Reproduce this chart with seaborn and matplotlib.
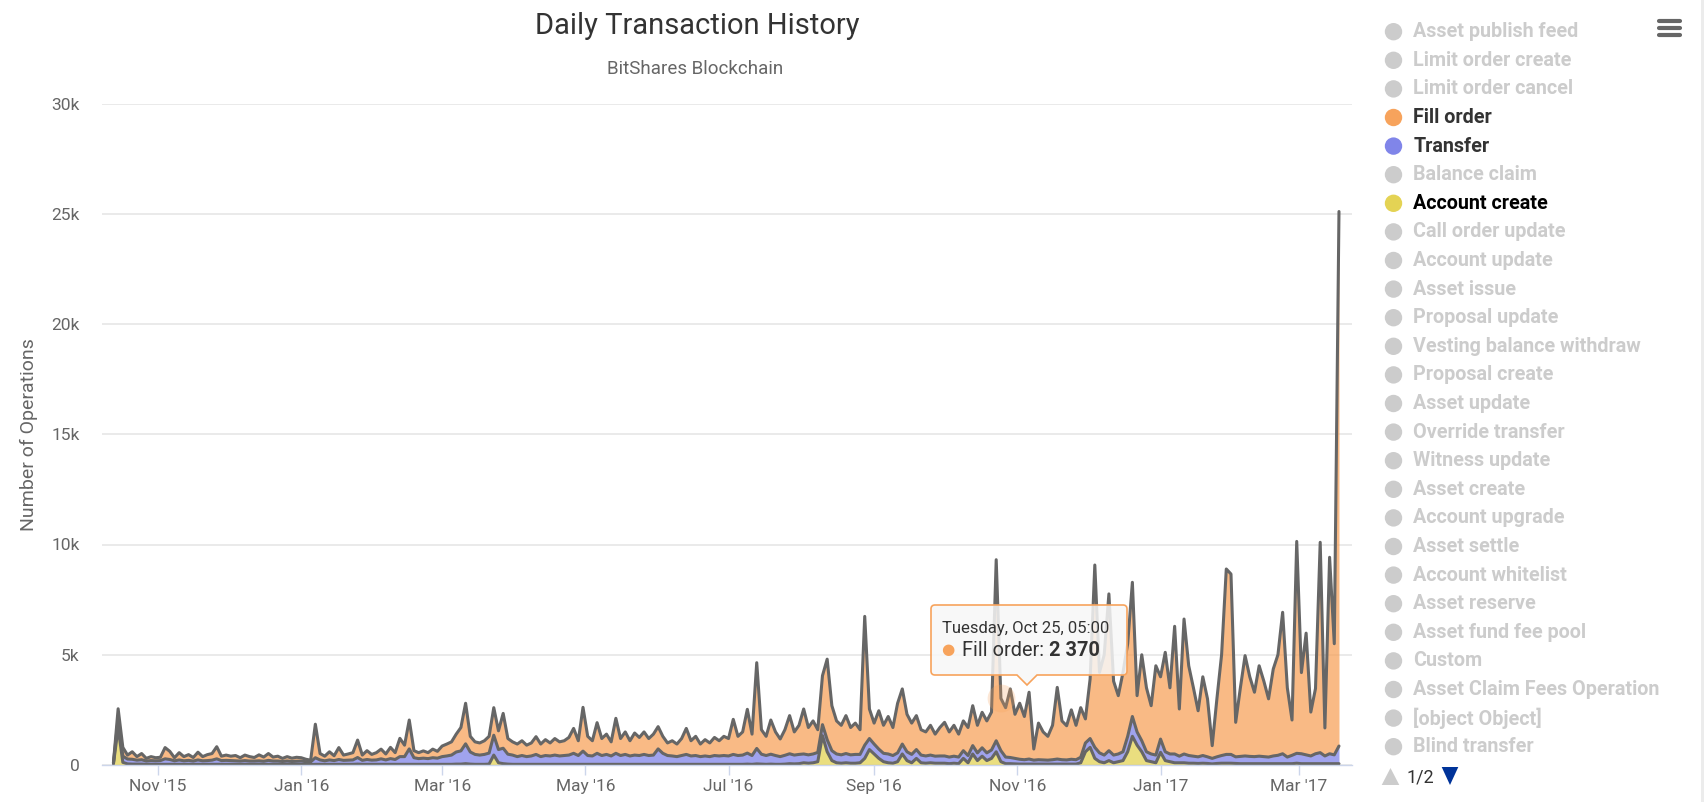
import matplotlib
matplotlib.use("Agg")
import matplotlib.pyplot as plt
import matplotlib.dates as mdates
import seaborn as sns
import pandas as pd
from matplotlib.patches import Ellipse, PathPatch, Polygon, Rectangle
from matplotlib.path import Path
from matplotlib.lines import Line2D

# ---- data: one value every second day, starting 13 Oct 2015 ----
# rows are calendar months, Oct '15 ... Mar '17
fill_order = (
    [0, 450, 400, 180, 340, 160, 280, 120, 180, 140]
    + [150, 510, 370, 140, 330, 190, 260, 160, 350, 190, 270, 300, 550, 200, 240]
    + [200, 240, 150, 250, 200, 160, 270, 190, 310, 180, 220, 140, 200, 150, 180]
    + [150, 110, 80, 1520, 290, 210, 370, 220, 540, 240, 280, 330, 790, 240, 400, 260]
    + [330, 440, 270, 510, 310, 830, 520, 1310, 320, 270, 330, 270, 390, 310]
    + [480, 540, 600, 810, 1060, 1840, 710, 570, 550, 620, 760, 1250, 850, 1580, 710, 600]
    + [570, 670, 520, 590, 805, 570, 720, 590, 750, 640, 670, 800, 1130, 670, 1985]
    + [870, 690, 1390, 770, 920, 640, 1587, 770, 1020, 690, 1000, 820, 1020, 770, 950]
    + [1010, 770, 570, 690, 570, 770, 1180, 690, 870, 570, 740, 620, 820, 690, 870]
    + [790, 1590, 870, 1050, 1985, 970, 3890, 1110, 870, 1550, 1070, 800, 1160, 1730, 1050, 1320]
    + [2040, 1240, 1500, 1030, 2220, 3650, 2040, 1500, 1340, 1720, 1240, 1420, 1120, 5840, 1340]
    + [950, 1740, 1270, 1700, 1270, 2250, 2500, 1700, 1420, 1540, 1150, 1090, 1350, 1000, 1290]
    + [1525, 1140, 1400, 1040, 1350, 1270, 1810, 1250, 1610, 1450, 1720, 8210, 2370, 2240, 3110, 2000]
    + [2540, 1960, 3030, 505, 1660, 1270, 1080, 1560, 3250, 1760, 1550, 2240, 1560, 2250, 1090]
    + [2700, 8270, 3650, 4550, 7110, 3350, 2645, 3600, 4200, 6085, 1645, 3900, 2900, 2190, 4050]
    + [2825, 4510, 3000, 5790, 2140, 6120, 4070, 3100, 2090, 3570, 2630, 577, 2630, 4570, 8410, 8180]
    + [1565, 3110, 4550, 3610, 2920, 4100, 3420, 2640, 3940, 4560, 6415, 3140, 1600, 9610]
    + [3680, 5520, 1990, 2960, 9540, 1270, 8910, 5040, 24240]
)
transfer = (
    [50, 400, 280, 220, 220, 180, 200, 150, 170, 160]
    + [170, 250, 220, 160, 200, 160, 180, 150, 200, 160, 170, 190, 250, 170, 180]
    + [170, 160, 150, 170, 150, 150, 160, 140, 180, 150, 150, 130, 150, 130, 140]
    + [150, 130, 120, 300, 200, 160, 200, 170, 220, 180, 190, 200, 300, 180, 220, 190]
    + [200, 250, 200, 260, 220, 350, 350, 700, 300, 260, 280, 260, 300, 280]
    + [350, 380, 420, 550, 600, 900, 550, 450, 420, 450, 500, 900, 600, 700, 450, 420]
    + [350, 400, 350, 380, 450, 350, 400, 380, 420, 380, 400, 420, 500, 400, 600]
    + [400, 380, 500, 400, 450, 380, 500, 400, 450, 380, 420, 400, 450, 400, 420]
    + [700, 500, 400, 380, 350, 400, 450, 380, 400, 350, 380, 350, 400, 380, 400]
    + [380, 450, 400, 420, 500, 400, 700, 450, 400, 450, 400, 350, 400, 450, 400, 420]
    + [400, 380, 400, 420, 500, 550, 450, 400, 380, 420, 380, 400, 380, 600, 500]
    + [450, 420, 380, 400, 350, 400, 450, 400, 380, 400, 350, 330, 350, 320, 330]
    + [330, 300, 320, 300, 350, 330, 380, 350, 380, 350, 380, 500, 500, 300, 280, 250]
    + [220, 200, 230, 180, 200, 190, 180, 200, 230, 200, 190, 220, 200, 250, 400]
    + [400, 500, 400, 350, 450, 350, 350, 400, 700, 900, 600, 500, 400, 350, 350]
    + [600, 400, 350, 400, 300, 400, 350, 320, 300, 350, 300, 250, 300, 350, 400, 400]
    + [300, 330, 350, 330, 320, 340, 320, 300, 350, 380, 450, 300, 380, 450]
    + [450, 400, 350, 450, 500, 350, 450, 400, 800]
)
account_create = (
    [50, 1700, 120, 50, 40, 40, 40, 30, 30, 30]
    + [30] * 15
    + [30] * 15
    + [30, 20, 20, 30, 30, 30, 30, 30, 30, 30, 30, 30, 40, 30, 30, 30]
    + [30] * 14
    + [30, 30, 30, 40, 40, 60, 40, 30, 30, 30, 40, 450, 100, 60, 40, 30]
    + [30] * 15
    + [30] * 15
    + [30] * 15
    + [30, 30, 30, 30, 40, 30, 50, 40, 30, 40, 30, 30, 40, 60, 50, 60]
    + [100, 80, 100, 150, 1330, 600, 200, 100, 80, 100, 80, 80, 100, 300, 700]
    + [500, 300, 150, 100, 80, 150, 500, 200, 100, 300, 100, 80, 100, 80, 80]
    + [80, 60, 80, 60, 300, 100, 500, 200, 400, 200, 300, 600, 150, 60, 60, 50]
    + [40] * 13 + [100, 600]
    + [800, 300, 150, 100, 200, 100, 150, 200, 600, 1300, 900, 600, 200, 150, 100]
    + [575, 200, 150, 100, 100, 100, 80, 80, 70, 80, 70, 50, 70, 80, 80, 80]
    + [70] + [60] * 12 + [80]
    + [60] * 9
)

legend_names = [
    "Asset publish feed", "Limit order create", "Limit order cancel", "Fill order",
    "Transfer", "Balance claim", "Account create", "Call order update",
    "Account update", "Asset issue", "Proposal update", "Vesting balance withdraw",
    "Proposal create", "Asset update", "Override transfer", "Witness update",
    "Asset create", "Account upgrade", "Asset settle", "Account whitelist",
    "Asset reserve", "Asset fund fee pool", "Custom", "Asset Claim Fees Operation",
    "[object Object]", "Blind transfer",
]
series_colors = {"Fill order": "#f7a35c", "Transfer": "#8085e9", "Account create": "#e4d354"}

n = min(len(fill_order), len(transfer), len(account_create))
df = pd.DataFrame({
    "date": pd.date_range("2015-10-13", periods=n, freq="2D"),
    "Fill order": fill_order[:n],
    "Transfer": transfer[:n],
    "Account create": account_create[:n],
})
# stacked levels (fill order on top, as in the chart)
df["acc_top"] = df["Account create"]
df["tr_top"] = df["acc_top"] + df["Transfer"]
df["fill_top"] = df["tr_top"] + df["Fill order"]

# ---- figure ----
W, H = 1704, 802
sns.set_theme(style="white")
plt.rcParams["font.family"] = ["Roboto", "DejaVu Sans"]

fig = plt.figure(figsize=(W / 100, H / 100), dpi=100)
ax = fig.add_axes([101.7 / W, 1 - 765 / H, 1250 / W, (765 - 103.5) / H])


def fx(x):
    return x / W


def fy(y):
    return 1 - y / H


ax.fill_between(df["date"], df["tr_top"], df["fill_top"], color=series_colors["Fill order"], alpha=0.75, lw=0)
ax.fill_between(df["date"], df["acc_top"], df["tr_top"], color=series_colors["Transfer"], alpha=0.75, lw=0)
ax.fill_between(df["date"], 0, df["acc_top"], color=series_colors["Account create"], alpha=0.75, lw=0)
for col in ["fill_top", "tr_top", "acc_top"]:
    sns.lineplot(data=df, x="date", y=col, color="#666666", lw=2.2, ax=ax)

# hover halo at the tooltip point
hover = df[df["date"] == pd.Timestamp("2016-10-25")]
ax.scatter(hover["date"], hover["fill_top"], s=400, color="#f7a35c", alpha=0.25, lw=0, zorder=6)

ax.set_xlim(pd.Timestamp("2015-10-08"), pd.Timestamp("2017-03-23 10:00"))
ax.set_ylim(0, 30000)
ax.set_yticks(range(0, 30001, 5000))
ax.set_yticklabels(["0"] + [f"{v}k" for v in range(5, 31, 5)])
ax.xaxis.set_major_locator(mdates.MonthLocator(bymonth=[1, 3, 5, 7, 9, 11]))
ax.xaxis.set_major_formatter(mdates.DateFormatter("%b '%y"))
ax.grid(axis="y", color="#e6e6e6", lw=1.2)
ax.grid(axis="x", visible=False)
ax.set_axisbelow(True)
for s in ["left", "right", "top"]:
    ax.spines[s].set_visible(False)
ax.spines["bottom"].set_color("#ccd6eb")
ax.spines["bottom"].set_linewidth(1)
ax.tick_params(axis="x", bottom=True, length=7.2, width=1, color="#ccd6eb", direction="out",
               pad=3, labelsize=12.5, labelcolor="#666666")
ax.tick_params(axis="y", left=False, length=0, pad=16, labelsize=12.5, labelcolor="#666666")
ax.set_xlabel("")
ax.set_ylabel("")

# titles
fig.text(fx(697), fy(33.7), "Daily Transaction History", ha="center", va="baseline",
         fontsize=21, color="#333333")
fig.text(fx(695), fy(74.4), "BitShares Blockchain", ha="center", va="baseline",
         fontsize=13.5, color="#666666")
fig.text(fx(29), fy(435), "Number of Operations", ha="center", va="center", rotation=90,
         fontsize=14, color="#666666")

# legend (custom, Highcharts style)
for i, name in enumerate(legend_names):
    yc = 31.7 + 28.6 * i
    on = name in series_colors
    col = series_colors.get(name, "#cccccc")
    fig.patches.append(Ellipse((fx(1393.5), fy(yc)), 17.4 / W, 17.4 / H, transform=fig.transFigure,
                               facecolor=col, edgecolor="none"))
    txt_col = "#000000" if name == "Account create" else ("#333333" if on else "#cccccc")
    fig.text(fx(1413.3), fy(yc), name, ha="left", va="center", fontsize=14.2,
             fontweight="bold", color=txt_col)

# legend pager
fig.patches.append(Polygon([(fx(1381.7), fy(785)), (fx(1399.3), fy(785)), (fx(1390.5), fy(768))],
                           closed=True, transform=fig.transFigure, facecolor="#cccccc", edgecolor="none"))
fig.patches.append(Polygon([(fx(1441.7), fy(767)), (fx(1458.3), fy(767)), (fx(1450), fy(785))],
                           closed=True, transform=fig.transFigure, facecolor="#003399", edgecolor="none"))
fig.text(fx(1420), fy(777), "1/2", ha="center", va="center", fontsize=13, color="#333333")

# export menu icon
for yy in (20.7, 27.7, 35):
    fig.lines.append(Line2D([fx(1659), fx(1680)], [fy(yy), fy(yy)], transform=fig.transFigure,
                            color="#666666", lw=3, solid_capstyle="round"))

# right page border
fig.patches.append(Rectangle((fx(1701), 0), 3 / W, 1, transform=fig.transFigure,
                             facecolor="#ececec", edgecolor="none"))

# tooltip callout
L, R, T, B, r = 931, 1127, 605, 675, 4
px, pw, tip = 1027, 10, 685
verts = [(L + r, T), (R - r, T), (R, T), (R, T + r), (R, B - r), (R, B), (R - r, B),
         (px + pw, B), (px, tip), (px - pw, B), (L + r, B), (L, B), (L, B - r),
         (L, T + r), (L, T), (L + r, T), (L + r, T)]
codes = [Path.MOVETO, Path.LINETO, Path.CURVE3, Path.CURVE3, Path.LINETO, Path.CURVE3,
         Path.CURVE3, Path.LINETO, Path.LINETO, Path.LINETO, Path.LINETO, Path.CURVE3,
         Path.CURVE3, Path.LINETO, Path.CURVE3, Path.CURVE3, Path.CLOSEPOLY]
tt_path = Path([(fx(x), fy(y)) for x, y in verts], codes)
fig.patches.append(PathPatch(tt_path, transform=fig.transFigure, facecolor=(0.97, 0.97, 0.97, 0.85),
                             edgecolor="#f7a35c", lw=1.2, zorder=10))
fig.text(fx(941.7), fy(629), "Tuesday, Oct 25, 05:00", ha="left", va="center", fontsize=12,
         color="#333333", zorder=11)
fig.text(fx(948), fy(650), "\u25cf", ha="center", va="center", fontsize=11,
         color="#f7a35c", family="DejaVu Sans", zorder=11)
lab = fig.text(fx(961.7), fy(650), "Fill order: ", ha="left", va="center", fontsize=14.4,
               color="#333333", zorder=11)
fig.canvas.draw()
bb = lab.get_window_extent(fig.canvas.get_renderer())
fig.text(bb.x1 / W, fy(650), "2 370", ha="left", va="center", fontsize=14.4,
         fontweight="bold", color="#333333", zorder=11)

fig.savefig("out.png", dpi=100, facecolor="white")
